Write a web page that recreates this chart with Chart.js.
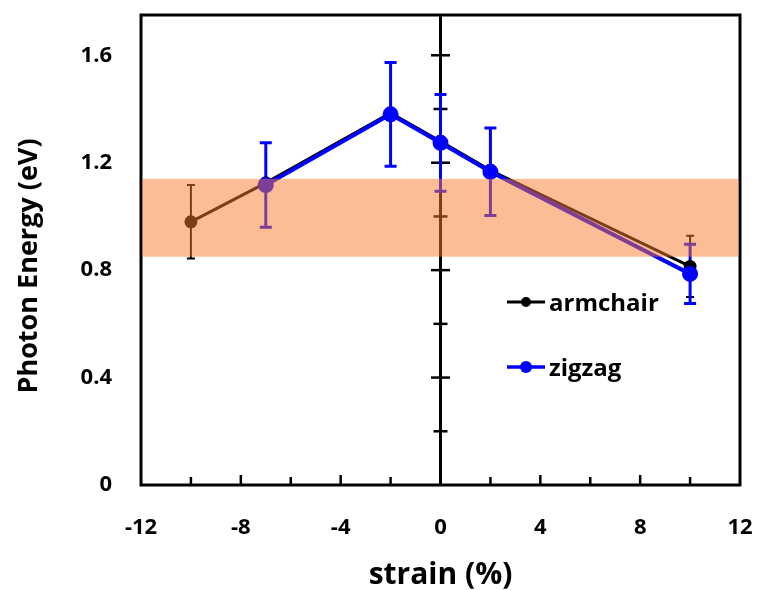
<!DOCTYPE html>
<html>
<head>
<meta charset="utf-8">
<script src="https://cdn.jsdelivr.net/npm/chart.js@4.4.1/dist/chart.umd.min.js"></script>
<style>
  html, body { margin: 0; padding: 0; background: #fff; }
  #wrap { width: 757px; height: 590px; }
</style>
</head>
<body>
<div id="wrap"><canvas id="grafica" width="757" height="590"></canvas></div>
<script>
// datos
const strainArm = [-10, -7, -2, 0, 2, 10];
const energiaArm = [0.98, 1.125, 1.385, 1.28, 1.172, 0.814];
const errorArm = [0.137, null, null, null, null, 0.114];

const strainZig = [-7, -2, 0, 2, 10];
const energiaZig = [1.117, 1.38, 1.274, 1.166, 0.786];
const errorZig = [0.157, 0.193, 0.18, 0.163, 0.11];

const xTicks = [-12, -8, -4, 0, 4, 8, 12];
const xMarcas = [-10, -8, -6, -4, -2, 2, 4, 6, 8, 10];
const yTicks = [0, 0.4, 0.8, 1.2, 1.6];
const yMarcas = [0.2, 0.4, 0.6, 0.8, 1.0, 1.2, 1.4, 1.6];
const banda = [0.85, 1.14];

const fuente = "'Open Sans', 'DejaVu Sans', sans-serif";

function puntos(xs, ys) {
    return xs.map(function (x, i) { return { x: x, y: ys[i] }; });
}

// marco, eje central, barras de error y banda
const pluginErrores = {
    id: 'errores',
    beforeDatasetsDraw: function (chart) {
        const ctx = chart.ctx;
        const yS = chart.scales.y;
        const xS = chart.scales.x;
        const area = chart.chartArea;
        ctx.save();
        // marco
        ctx.strokeStyle = '#000';
        ctx.lineWidth = 3;
        ctx.strokeRect(area.left, area.top, area.right - area.left, area.bottom - area.top);
        // eje vertical en x = 0
        const x0 = xS.getPixelForValue(0);
        ctx.beginPath();
        ctx.moveTo(x0, area.top);
        ctx.lineTo(x0, area.bottom);
        ctx.stroke();
        ctx.lineWidth = 2.5;
        yMarcas.forEach(function (v) {
            const py = yS.getPixelForValue(v);
            const mayor = yTicks.indexOf(v) >= 0;
            const w = mayor ? 9.5 : 7;
            ctx.beginPath();
            ctx.moveTo(x0 - w, py);
            ctx.lineTo(x0 + w, py);
            ctx.stroke();
        });
        // marcas del eje x hacia dentro
        xMarcas.forEach(function (v) {
            const px = xS.getPixelForValue(v);
            const mayor = xTicks.indexOf(v) >= 0;
            ctx.beginPath();
            ctx.moveTo(px, area.bottom);
            ctx.lineTo(px, area.bottom - (mayor ? 10 : 8));
            ctx.stroke();
        });

        const series = [
            { xs: strainArm, ys: energiaArm, err: errorArm, color: '#000', ancho: 2, cap: 4 },
            { xs: strainZig, ys: energiaZig, err: errorZig, color: '#0000ff', ancho: 3, cap: 6 }
        ];
        series.forEach(function (s) {
            ctx.strokeStyle = s.color;
            ctx.lineWidth = s.ancho;
            s.xs.forEach(function (x, i) {
                if (s.err[i] == null) return;
                const px = xS.getPixelForValue(x);
                const yArriba = yS.getPixelForValue(s.ys[i] + s.err[i]);
                const yAbajo = yS.getPixelForValue(s.ys[i] - s.err[i]);
                ctx.beginPath();
                ctx.moveTo(px, yArriba);
                ctx.lineTo(px, yAbajo);
                ctx.moveTo(px - s.cap, yArriba);
                ctx.lineTo(px + s.cap, yArriba);
                ctx.moveTo(px - s.cap, yAbajo);
                ctx.lineTo(px + s.cap, yAbajo);
                ctx.stroke();
            });
        });
        ctx.restore();
    },
    afterDatasetsDraw: function (chart) {
        // banda naranja semitransparente encima de todo
        const ctx = chart.ctx;
        const yS = chart.scales.y;
        const area = chart.chartArea;
        const yA = yS.getPixelForValue(banda[1]);
        const yB = yS.getPixelForValue(banda[0]);
        ctx.save();
        ctx.fillStyle = 'rgba(249, 123, 45, 0.5)';
        ctx.fillRect(area.left + 1.5, yA, area.right - area.left - 3, yB - yA);
        ctx.restore();
    },
    afterDraw: function (chart) {
        const ctx = chart.ctx;
        ctx.save();
        // titulo del eje y (un poco por debajo del centro, como en la figura)
        ctx.fillStyle = '#000';
        ctx.font = 'bold 27px ' + fuente;
        ctx.textAlign = 'center';
        ctx.textBaseline = 'middle';
        ctx.translate(29, 266);
        ctx.rotate(-Math.PI / 2);
        ctx.fillText('Photon Energy (eV)', 0, 0);
        ctx.restore();

        // leyenda dentro del area
        const items = [
            { texto: 'armchair', color: '#000', y: 302, ancho: 3, r: 5 },
            { texto: 'zigzag', color: '#0000ff', y: 367, ancho: 3.5, r: 6 }
        ];
        ctx.save();
        items.forEach(function (it) {
            ctx.strokeStyle = it.color;
            ctx.fillStyle = it.color;
            ctx.lineWidth = it.ancho;
            ctx.beginPath();
            ctx.moveTo(507, it.y);
            ctx.lineTo(545, it.y);
            ctx.stroke();
            ctx.beginPath();
            ctx.arc(526, it.y, it.r, 0, Math.PI * 2);
            ctx.fill();
            ctx.fillStyle = '#000';
            ctx.font = 'bold 24px ' + fuente;
            ctx.textBaseline = 'middle';
            ctx.textAlign = 'left';
            ctx.fillText(it.texto, 549, it.y + 2);
        });
        ctx.restore();
    }
};

const $Lienzo = document.getElementById('grafica');

new Chart($Lienzo, {
    type: 'scatter',
    data: {
        datasets: [
            {
                label: 'armchair',
                data: puntos(strainArm, energiaArm),
                showLine: true,
                borderColor: '#000',
                backgroundColor: '#000',
                borderWidth: 3,
                pointRadius: 5,
                pointHoverRadius: 5,
                order: 2
            },
            {
                label: 'zigzag',
                data: puntos(strainZig, energiaZig),
                showLine: true,
                borderColor: '#0000ff',
                backgroundColor: '#0000ff',
                borderWidth: 4,
                pointRadius: 6,
                pointHoverRadius: 6,
                order: 1
            }
        ]
    },
    options: {
        responsive: false,
        animation: false,
        layout: { padding: { left: 0, top: 15, right: 17, bottom: 0 } },
        plugins: {
            legend: { display: false },
            tooltip: { enabled: false }
        },
        scales: {
            x: {
                type: 'linear',
                min: -12,
                max: 12,
                afterFit: function (s) { s.height = 105; },
                afterBuildTicks: function (s) {
                    s.ticks = xTicks.map(function (v) { return { value: v }; });
                },
                grid: { display: false, drawTicks: true, tickLength: 30 },
                border: { display: false },
                ticks: {
                    padding: 0,
                    color: '#000',
                    maxRotation: 0,
                    font: { family: fuente, size: 22, weight: 'bold' }
                },
                title: {
                    display: true,
                    text: 'strain (%)',
                    color: '#000',
                    padding: { top: 0, bottom: 0 },
                    font: { family: fuente, size: 30, weight: 'bold', lineHeight: 1.0 }
                }
            },
            y: {
                min: 0,
                max: 1.75,
                afterFit: function (s) { s.width = 141; },
                afterBuildTicks: function (s) {
                    s.ticks = yTicks.map(function (v) { return { value: v }; });
                },
                grid: { display: false, drawTicks: true, tickLength: 29 },
                border: { display: false },
                ticks: {
                    padding: 0,
                    color: '#000',
                    font: { family: fuente, size: 22, weight: 'bold' },
                    callback: function (v) { return v === 0 ? '0' : v.toFixed(1); }
                },
                title: { display: false }
            }
        }
    },
    plugins: [pluginErrores]
});
</script>
</body>
</html>
